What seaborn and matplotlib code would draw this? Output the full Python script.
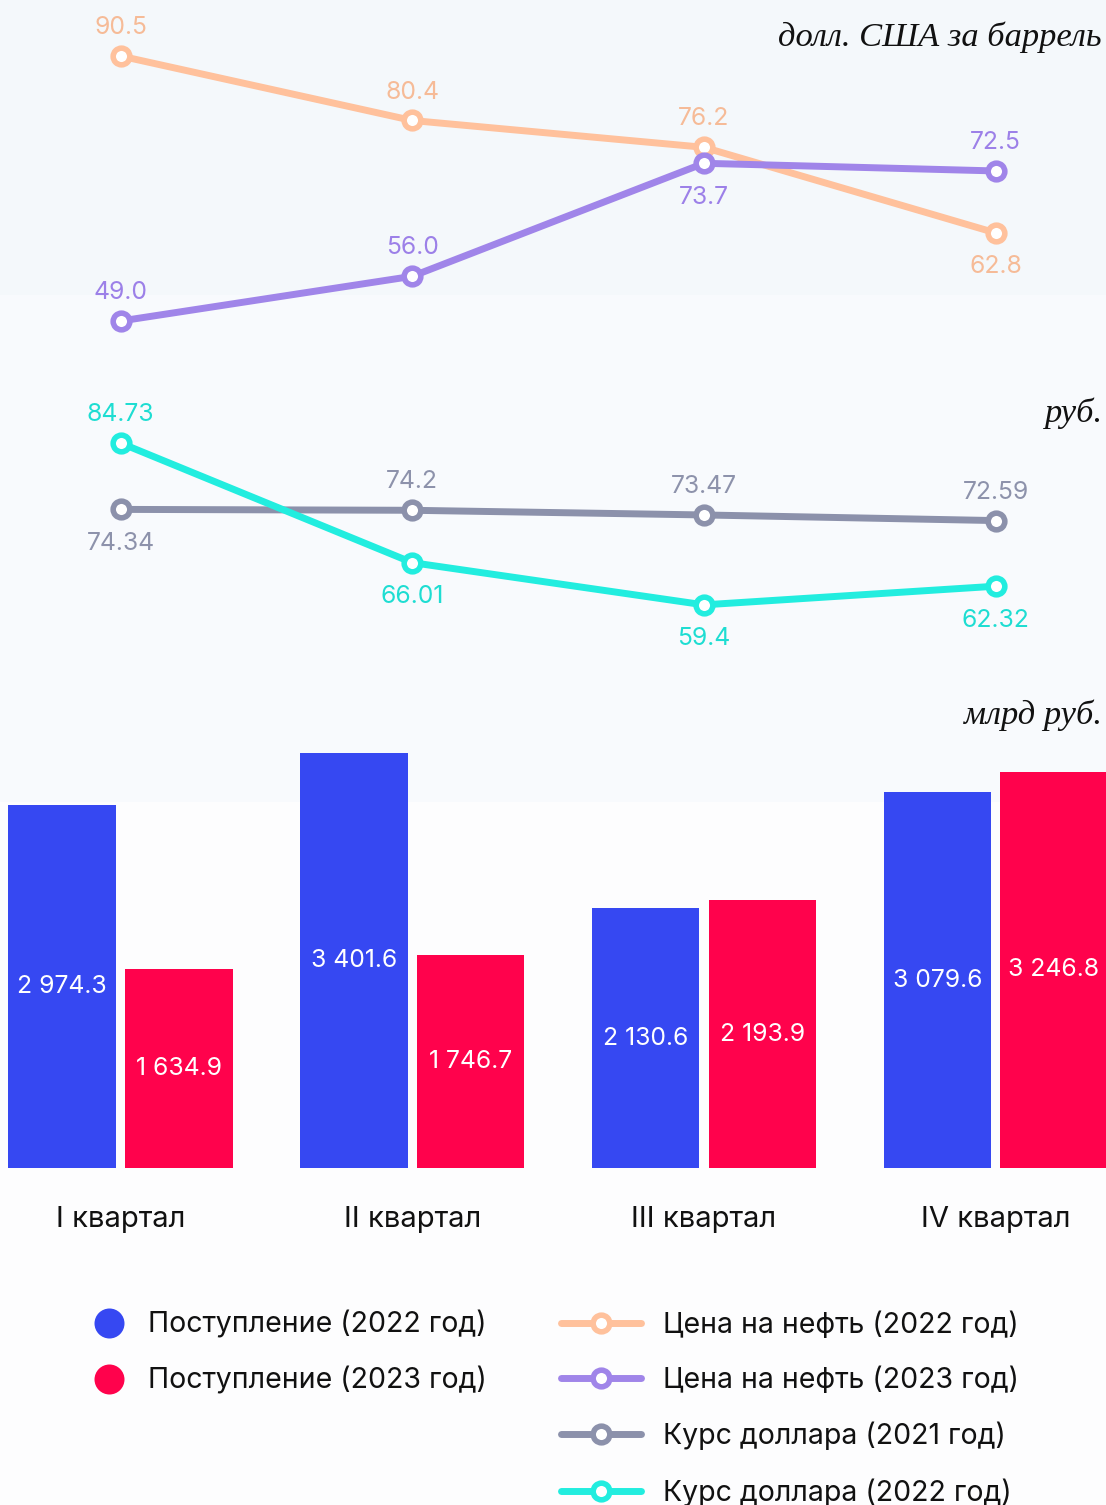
import matplotlib
matplotlib.use("Agg")
import matplotlib.pyplot as plt
from matplotlib.lines import Line2D
import seaborn as sns
import pandas as pd

# ---------------- data ----------------
quarters = ["I квартал", "II квартал", "III квартал", "IV квартал"]
oil_2022 = [90.5, 80.4, 76.2, 62.8]
oil_2023 = [49.0, 56.0, 73.7, 72.5]
usd_2021 = [74.34, 74.2, 73.47, 72.59]
usd_2022 = [84.73, 66.01, 59.4, 62.32]
usd_2021_labels = ["74.34", "74.2", "73.47", "72.59"]
usd_2022_labels = ["84.73", "66.01", "59.4", "62.32"]
rev_2022 = [2974.3, 3401.6, 2130.6, 3079.6]
rev_2023 = [1634.9, 1746.7, 2193.9, 3246.8]

name_rev_2022 = "Поступление (2022 год)"
name_rev_2023 = "Поступление (2023 год)"
name_oil_2022 = "Цена на нефть (2022 год)"
name_oil_2023 = "Цена на нефть (2023 год)"
name_usd_2021 = "Курс доллара (2021 год)"
name_usd_2022 = "Курс доллара (2022 год)"

unit_oil = "долл. США за баррель"
unit_usd = "руб."
unit_rev = "млрд руб."

# label placement: +1 above point, -1 below
oil_2022_pos = [1, 1, 1, -1]
oil_2023_pos = [1, 1, -1, 1]
usd_2021_pos = [-1, 1, 1, 1]
usd_2022_pos = [1, -1, -1, -1]

# ---------------- style ----------------
C_BLUE = "#3648F2"
C_RED = "#FF024C"
C_PEACH = "#FFC19C"
C_PURPLE = "#A085E9"
C_GREY = "#8C91AB"
C_CYAN = "#22EDDF"
L_PEACH = "#F6BB97"
L_PURPLE = "#9C80E8"
L_GREY = "#8D92AB"
L_CYAN = "#1EDDD2"

sns.set_theme(style="white")
plt.rcParams["font.family"] = ["Inter", "DejaVu Sans"]

W, H = 1106, 1505
fig = plt.figure(figsize=(W / 100, H / 100), dpi=100)
fig.patch.set_facecolor("#FDFDFE")


def frac_rect(top_px, bottom_px):
    return [0, 1 - bottom_px / H, 1, (bottom_px - top_px) / H]


# background bands
bg = fig.add_axes([0, 0, 1, 1], zorder=-10)
bg.set_xlim(0, 1)
bg.set_ylim(H, 0)
bg.axhspan(0, 295, color="#F4F8FB", lw=0)
bg.axhspan(295, 802, color="#F8FAFD", lw=0)
bg.axhspan(802, H, color="#FDFDFE", lw=0)
bg.axis("off")

XLIM = (-120.5 / 291.7, (W - 120.5) / 291.7)
LW = 5.0
MS = 12.0
MEW = 4.0
VAL_FS = 17.8
OFF_UP = 20.5
OFF_DOWN = -24.5


def line_panel(ax, series):
    for vals, labels, pos, col, lcol, z in series:
        df = pd.DataFrame({"q": quarters, "v": vals})
        sns.lineplot(data=df, x="q", y="v", ax=ax, color=col, lw=LW,
                     marker="o", markersize=MS, markerfacecolor="white",
                     markeredgecolor=col, markeredgewidth=MEW, zorder=z,
                     sort=False)
        for i, (v, t, p) in enumerate(zip(vals, labels, pos)):
            off = OFF_UP if p > 0 else OFF_DOWN
            ax.annotate(t, (i, v), xytext=(0, off), textcoords="offset points",
                        ha="center", va="center", color=lcol, fontsize=VAL_FS,
                        zorder=z + 1)
    ax.set_xlim(*XLIM)
    ax.set_facecolor("none")
    ax.set_xlabel("")
    ax.set_ylabel("")
    ax.set_xticks([])
    ax.set_yticks([])
    for s in ax.spines.values():
        s.set_visible(False)


# oil panel (pixel y = 56 + (90.5 - v) * 6.386)
ax1 = fig.add_axes(frac_rect(0, 340))
line_panel(ax1, [
    (oil_2022, [f"{v:.1f}" for v in oil_2022], oil_2022_pos, C_PEACH, L_PEACH, 3),
    (oil_2023, [f"{v:.1f}" for v in oil_2023], oil_2023_pos, C_PURPLE, L_PURPLE, 5),
])
ax1.set_ylim(90.5 - (340 - 56) / 6.386, 90.5 + 56 / 6.386)

# rub panel
ax2 = fig.add_axes(frac_rect(380, 680))
line_panel(ax2, [
    (usd_2021, usd_2021_labels, usd_2021_pos, C_GREY, L_GREY, 3),
    (usd_2022, usd_2022_labels, usd_2022_pos, C_CYAN, L_CYAN, 5),
])
ax2.set_ylim(84.73 - (680 - 443) / 6.39, 84.73 + (443 - 380) / 6.39)

# bars
ax3 = fig.add_axes(frac_rect(740, 1168))
df_bar = pd.DataFrame({
    "q": quarters * 2,
    "v": rev_2022 + rev_2023,
    "s": [name_rev_2022] * 4 + [name_rev_2023] * 4,
})
sns.barplot(data=df_bar, x="q", y="v", hue="s", palette=[C_BLUE, C_RED],
            width=0.8, gap=0.08, saturation=1, errorbar=None, legend=False,
            ax=ax3, linewidth=0)
for cont, vals in zip(ax3.containers, [rev_2022, rev_2023]):
    ax3.bar_label(cont, labels=[f"{v:,.1f}".replace(",", " ") for v in vals],
                  label_type="center", color="white", fontsize=VAL_FS)
ax3.set_xlim(*XLIM)
ax3.set_ylim(0, 428 / 0.1220)
ax3.set_facecolor("none")
ax3.set_xlabel("")
ax3.set_ylabel("")
ax3.set_yticks([])
ax3.tick_params(axis="x", length=0, pad=27.5, labelsize=21, labelcolor="#111111")
for s in ax3.spines.values():
    s.set_visible(False)

# unit labels
unit_kw = dict(ha="right", va="center", fontstyle="italic",
               family=["Liberation Serif", "DejaVu Serif"], fontsize=24.8, color="#111111")
fig.text(1102 / W, 1 - 37 / H, unit_oil, **unit_kw)
fig.text(1102 / W, 1 - 413 / H, unit_usd, **unit_kw)
fig.text(1102 / W, 1 - 715 / H, unit_rev, **unit_kw)

# legends
LEG_FS = 20.5
h_bars = [Line2D([], [], ls="none", marker="o", markersize=21.6,
                 markerfacecolor=c, markeredgewidth=0) for c in (C_BLUE, C_RED)]
leg1 = fig.legend(h_bars, [name_rev_2022, name_rev_2023], loc="upper left",
                  bbox_to_anchor=(89 / W, 1 - 1311 / H), frameon=False,
                  borderpad=0, borderaxespad=0, handlelength=1.4,
                  handletextpad=0.67, labelspacing=0.98, fontsize=LEG_FS)
h_lines = [Line2D([], [], color=c, lw=LW, marker="o", markersize=MS,
                  markerfacecolor="white", markeredgecolor=c, markeredgewidth=MEW)
           for c in (C_PEACH, C_PURPLE, C_GREY, C_CYAN)]
leg2 = fig.legend(h_lines, [name_oil_2022, name_oil_2023, name_usd_2021, name_usd_2022],
                  loc="upper left", bbox_to_anchor=(561 / W, 1 - 1311 / H),
                  frameon=False, borderpad=0, borderaxespad=0, handlelength=2.81,
                  handletextpad=0.77, labelspacing=0.98, fontsize=LEG_FS, numpoints=1)
for leg in (leg1, leg2):
    for t in leg.get_texts():
        t.set_color("#111111")

fig.savefig("out.png", dpi=100, facecolor=fig.get_facecolor())
